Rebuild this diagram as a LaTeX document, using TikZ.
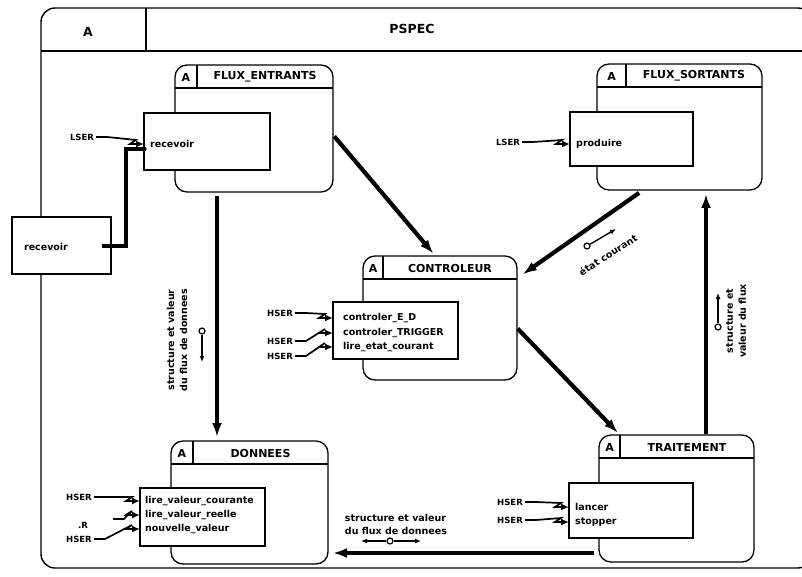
\documentclass[tikz,border=0pt]{standalone}
\usepackage{fontspec}
\setmainfont{DejaVu Sans}
\usetikzlibrary{arrows.meta,calc}

% process box: name, x1, y1, x2, y2, width of the "A" cell, title
\newcommand\procbox[7]{%
  \node[proc, anchor=north west, minimum width={#4pt-#2pt}, minimum height={#5pt-#3pt}] (#1) at (#2,#3) {};
  \draw[hdrline] ([yshift=-23pt]#1.north west) -- ([yshift=-23pt]#1.north east);
  \draw[hdrline] ([xshift=#6pt]#1.north west) -- ([xshift=#6pt,yshift=-23pt]#1.north west);
  \node[boxtitle] (#1-a) at ([xshift=#6pt/2, yshift=-12pt]#1.north west) {A};
  \node[boxtitle] (#1-t) at ($([xshift=#6pt]#1.north west)!0.5!(#1.north east)+(0,12)$) {#7};
}
% operation list box: name, x1, y1, x2, y2
\newcommand\opbox[5]{%
  \node[inbox, anchor=north west, minimum width={#4pt-#2pt}, minimum height={#5pt-#3pt}] (#1) at (#2,#3) {};
}

\begin{document}
\begin{tikzpicture}[x=1pt,y=-1pt,
  frame/.style={line width=1.4pt},
  proc/.style={draw, line width=1.3pt, rounded corners=12pt, fill=white, inner sep=0pt, outer sep=0pt},
  inbox/.style={draw, line width=1.2pt, fill=white, inner sep=0pt, outer sep=0pt},
  hdrline/.style={line width=1.1pt},
  hdrtext/.style={font=\bfseries\fontsize{12.5}{14}\selectfont, inner sep=0pt},
  boxtitle/.style={font=\bfseries\fontsize{11}{13}\selectfont, inner sep=0pt},
  row/.style={font=\bfseries\fontsize{9.5}{11}\selectfont, inner sep=0pt, anchor=west},
  sig/.style={font=\bfseries\fontsize{8.5}{10}\selectfont, inner sep=0pt},
  note/.style={font=\bfseries\fontsize{9.5}{13}\selectfont, inner sep=0pt, align=center},
  flow/.style={line width=4.2pt, -{Latex[length=14pt,width=10pt]}},
  link/.style={line width=4pt},
  zap/.style={line width=1.7pt, line join=miter, -{Latex[length=8pt,width=7pt]},
    to path={-- ++(11,0) -- ($(\tikztotarget)+(-8,-4)$) -- ($(\tikztotarget)+(-14,0)$) -- (\tikztotarget)}},
  tok/.style={circle, draw, line width=1.2pt, minimum size=6pt, inner sep=0pt, fill=white},
  tokarrow/.style={line width=1.4pt, -{Latex[length=6pt,width=5pt]}}
]
\useasboundingbox (0,0) rectangle (802,577);
\clip (0,0) rectangle (802,577);

% outer PSPEC frame and its header
\draw[frame, rounded corners=14pt] (41,568) -- (41,8) -- (812,8) -- (812,568) -- cycle;
\draw[frame] (41,51) -- (812,51);
\draw[frame] (146,8) -- (146,51);
\node[hdrtext] (hdr-a) at (88,32) {A};
\node[hdrtext] (hdr-t) at (412,29) {PSPEC};

% external receive box on the frame border
\node[inbox, anchor=north west, minimum width=99pt, minimum height=57pt] (recv) at (12,217) {};
\node[row, anchor=center] (recv-t) at (46,247) {recevoir};

% processes
\procbox{fe}{175}{65}{333}{192}{22}{FLUX\_ENTRANTS}
\opbox{fein}{144}{113}{270}{170}
\node[row] (fer) at (150,144) {recevoir};

\procbox{fs}{597}{64}{762}{190}{29}{FLUX\_SORTANTS}
\opbox{fsin}{570}{112}{693}{166}
\node[row] (fsr) at (576,144) {produire};

\procbox{ctl}{363}{256}{517}{380}{20}{CONTROLEUR}
\opbox{ctlin}{333}{302}{458}{359}
\node[row] (c1) at (343,318) {controler\_E\_D};
\node[row] (c2) at (343,333) {controler\_TRIGGER};
\node[row] (c3) at (343,347) {lire\_etat\_courant};

\procbox{don}{171}{441}{328}{564}{22}{DONNEES}
\opbox{donin}{140}{488}{265}{546}
\node[row] (d1) at (145,501) {lire\_valeur\_courante};
\node[row] (d2) at (145,515) {lire\_valeur\_reelle};
\node[row] (d3) at (145,529) {nouvelle\_valeur};

\procbox{tr}{599}{435}{754}{562}{21}{TRAITEMENT}
\opbox{trin}{569}{483}{693}{538}
\node[row] (t1) at (575,507) {lancer};
\node[row] (t2) at (575,522) {stopper};

% link between the external box and FLUX_ENTRANTS
\path ([yshift=-5pt]fer.west -| fein.west) coordinate (fedot);
\draw[link] (fedot) -| ([xshift=15pt]recv.east) -- ([xshift=-9pt]recv.east);
\fill (fedot) circle (2.6pt);

% data flows
\draw[flow, shorten <=2pt, shorten >=3pt] ($(fe.north east)!0.55!(fe.south east)$) -- ($(ctl.north west)!0.47!(ctl.north east)$);
\draw[flow, shorten <=5pt, shorten >=7pt] ($(fs.south west)!0.28!(fs.south east)$) -- ($(ctl.north east)!0.18!(ctl.south east)$);
\draw[flow, shorten <=1pt, shorten >=3pt] ($(ctl.north east)!0.58!(ctl.south east)$) -- ($(tr.north west)!0.135!(tr.north east)$);
\coordinate (vx) at (706,0);
\draw[flow, shorten <=1pt, shorten >=4pt] (vx |- tr.north) -- (vx |- fs.south);
\coordinate (vl) at (217,0);
\draw[flow, shorten <=4pt, shorten >=4pt] (vl |- fe.south) -- (vl |- don.north);
\coordinate (hb) at (0,553);
\draw[flow, shorten <=5pt, shorten >=5pt] (hb -| tr.west) -- (hb -| don.east);

% flow annotations
\node[note, rotate=90] (n1) at (177,340) {structure et valeur\\du flux de donnees};
\node[tok] (k1) at (202,331) {};
\coordinate (k1e) at (202,362);
\draw[tokarrow] (k1) -- (k1e);

\node[note, rotate=90] (n2) at (736,321) {structure et\\valeur du flux};
\node[tok] (k2) at (718,327) {};
\coordinate (k2e) at (718,293);
\draw[tokarrow] (k2) -- (k2e);

\node[note, rotate=32.5] (n3) at (608,255) {état courant};
\node[tok] (k3) at (587,246) {};
\coordinate (k3e) at (616,229);
\draw[tokarrow] (k3) -- (k3e);

\node[note, align=left] (n4) at (396,524) {structure et valeur\\du flux de donnees};
\node[tok] (k4) at (390,541) {};
\coordinate (k4l) at (361,541);
\coordinate (k4r) at (421,541);
\draw[tokarrow] (k4) -- (k4l);
\draw[tokarrow] (k4) -- (k4r);

% event signals
\node[sig] (s1) at (82,137) {LSER};
\draw[zap] ([xshift=2pt]s1.east) to (fer.west -| fein.west);
\node[sig] (s2) at (508,142) {LSER};
\draw[zap] ([xshift=2pt]s2.east) to (fsr.west -| fsin.west);

\node[sig] (h1) at (280,313) {HSER};
\draw[zap] ([xshift=2pt]h1.east) to (c1.west -| ctlin.west);
\node[sig] (h2) at (280,341) {HSER};
\draw[zap] ([xshift=2pt]h2.east) to (c2.west -| ctlin.west);
\node[sig] (h3) at (280,356) {HSER};
\draw[zap] ([xshift=2pt]h3.east) to (c3.west -| ctlin.west);

\node[sig] (h4) at (79,497) {HSER};
\draw[zap] ([xshift=2pt]h4.east) to (d1.west -| donin.west);
\node[sig] (h5) at (83,525) {.R};
\coordinate (z5) at (113,519);
\draw[zap] (z5) to (d2.west -| donin.west);
\node[sig] (h6) at (79,539) {HSER};
\draw[zap] ([xshift=2pt]h6.east) to (d3.west -| donin.west);

\node[sig] (h7) at (510,502) {HSER};
\draw[zap] ([xshift=2pt]h7.east) to (t1.west -| trin.west);
\node[sig] (h8) at (510,520) {HSER};
\draw[zap] ([xshift=2pt]h8.east) to (t2.west -| trin.west);
\end{tikzpicture}
\end{document}
